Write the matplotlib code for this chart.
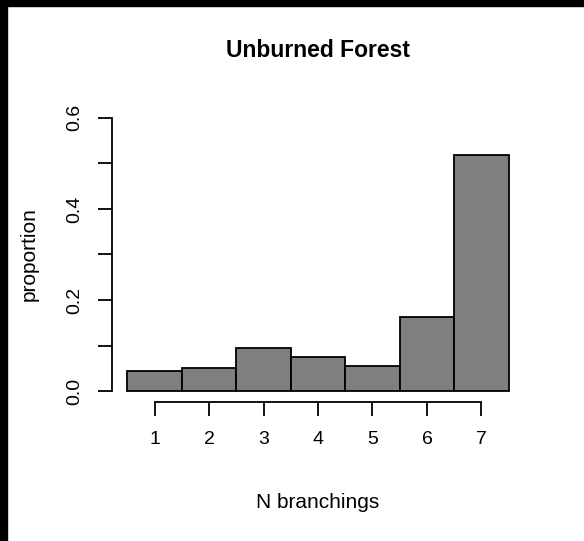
import numpy as np
import matplotlib.pyplot as plt
from matplotlib.patches import Rectangle

plt.rcParams['font.family'] = ['Liberation Sans', 'DejaVu Sans']

branchings = [1, 2, 3, 4, 5, 6, 7]
proportion = [0.044, 0.050, 0.095, 0.075, 0.056, 0.162, 0.519]
y_ticks = [0.0, 0.1, 0.2, 0.3, 0.4, 0.5, 0.6]
y_labels = ['0.0', '', '0.2', '', '0.4', '', '0.6']

W, H = 584, 541
fig = plt.figure(figsize=(W / 100, H / 100), dpi=100)
ax = fig.add_axes([112 / W, 1 - 402 / H, (524 - 112) / W, (402 - 107) / H])

ax.bar(branchings, proportion, width=1.0, color='#7f7f7f',
       edgecolor='black', linewidth=1.3)

ax.set_xlim(0.22, 7.78)
ax.set_ylim(-0.024, 0.624)

for s in ['top', 'right']:
    ax.spines[s].set_visible(False)
ax.spines['left'].set_bounds(0, 0.6)
ax.spines['bottom'].set_bounds(1, 7)
ax.spines['left'].set_linewidth(1.3)
ax.spines['bottom'].set_linewidth(1.3)

ax.set_xticks(branchings)
ax.set_xticklabels([str(b) for b in branchings])
ax.set_yticks(y_ticks)
ax.set_yticklabels(y_labels, rotation=90, va='center')
ax.tick_params(axis='both', direction='out', length=9.8, width=1.3,
               labelsize=14, color='black')
ax.tick_params(axis='x', pad=11)
ax.tick_params(axis='y', pad=11)

fig.text(318 / W, 1 - 57 / H, 'Unburned Forest', ha='center',
         va='baseline', fontsize=16.5, fontweight='bold')
fig.text(318 / W, 1 - 508 / H, 'N branchings', ha='center',
         va='baseline', fontsize=15)
fig.text(29 / W, 1 - 254.5 / H, 'proportion', ha='center', va='center',
         rotation=90, fontsize=15)

# black strips along top and left edge
fig.patches.append(Rectangle((0, 1 - 6 / H), 1, 6 / H, color='black',
                             transform=fig.transFigure, figure=fig))
fig.patches.append(Rectangle((0, 0), 7 / W, 1, color='black',
                             transform=fig.transFigure, figure=fig))

fig.savefig('out.png', dpi=100)
